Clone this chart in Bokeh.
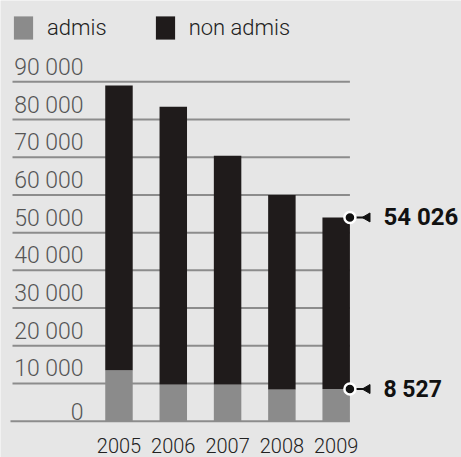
from bokeh.plotting import figure
from bokeh.models import Range1d, Legend, LegendItem, ColumnDataSource
from bokeh.core.properties import value
from bokeh.embed import file_html
from bokeh.resources import INLINE

# ---- data ----
years = ["2005", "2006", "2007", "2008", "2009"]
admis = [13500, 9700, 9700, 8400, 8527]
non_admis = [75500, 73700, 60700, 51600, 45499]
tick_values = [0, 10000, 20000, 30000, 40000, 50000, 60000, 70000, 80000, 90000]
tick_labels = ["0", "10 000", "20 000", "30 000", "40 000", "50 000",
               "60 000", "70 000", "80 000", "90 000"]
annot_labels = ["54 026", "8 527"]

BG = "#e6e6e6"
GRID = "#8c8c8c"
C_ADMIS = "#8b8b8b"
C_NON = "#1f1b1b"
LIGHT = "Roboto Light, Roboto"

PX_X = 54.3          # pixels per category
PX_Y = 37.71 / 10000  # pixels per unit

p = figure(width=461, height=457, output_backend="svg", toolbar_location=None,
           x_range=Range1d(-2.182, 6.308), y_range=Range1d(-9626, 111562),
           min_border=0, min_border_left=0, min_border_right=0,
           min_border_top=0, min_border_bottom=0,
           background_fill_color=BG, border_fill_color=BG, outline_line_color=None)
p.axis.visible = False
p.grid.visible = False

xs = list(range(len(years)))
bw = 0.506

# gridlines (behind bars)
grid_x0 = [-1.961 if v > 0 else -1.998 for v in tick_values]
grid_x1 = [len(years) - 1 + bw / 2] * len(tick_values)
p.segment(x0=grid_x0, y0=tick_values, x1=grid_x1, y1=tick_values,
          line_color=GRID, line_width=2)

# tick labels, right aligned above each gridline
p.text(x=[-0.653] * len(tick_values), y=tick_values, text=tick_labels,
       text_font=value(LIGHT), text_font_size="23px", text_color="#555555",
       text_align="right", text_baseline="bottom", y_offset=-1)

# stacked bars
src = ColumnDataSource(dict(x=xs, admis=admis, non_admis=non_admis))
rs = p.vbar_stack(["admis", "non_admis"], x="x", width=bw, source=src,
                  color=[C_ADMIS, C_NON], line_color=None)

# year labels
p.text(x=xs, y=[0] * len(xs), y_offset=24.5, text=years, text_font=value(LIGHT),
       text_font_size="20px", text_color="#222222", text_align="center",
       text_baseline="middle")

# annotations for 2009
last = len(years) - 1
edge = last + bw / 2
tot_last = admis[last] + non_admis[last]
ann_y = [tot_last, admis[last]]
p.segment(x0=[edge + 6 / PX_X] * 2, y0=ann_y, x1=[edge + 20 / PX_X] * 2, y1=ann_y,
          line_color="#111111", line_width=2)
p.scatter(x=[edge + 17.5 / PX_X] * 2, y=ann_y, marker="triangle", size=9,
          angle=1.5708, fill_color="#111111", line_color="#111111")
p.scatter(x=[edge] * 2, y=ann_y, marker="circle", size=11, fill_color="#111111",
          line_color="white", line_width=2.5)
p.text(x=[edge + 33.5 / PX_X] * 2, y=ann_y, text=annot_labels,
       text_font=value("Roboto"), text_font_style="bold",
       text_font_size=["24px", "23px"], text_color="#111111",
       text_align="left", text_baseline="middle")

# legend
legend = Legend(items=[LegendItem(label="admis", renderers=[rs[0]]),
                       LegendItem(label="non admis", renderers=[rs[1]])],
                orientation="horizontal", location=(11, 415),
                glyph_width=24, glyph_height=29, label_standoff=12, spacing=46,
                padding=0, margin=0, background_fill_alpha=0, border_line_alpha=0,
                label_text_font=LIGHT, label_text_font_size="22px",
                label_text_color="#222222")
p.add_layout(legend, "center")

open("out.html", "w").write(file_html(p, INLINE))
